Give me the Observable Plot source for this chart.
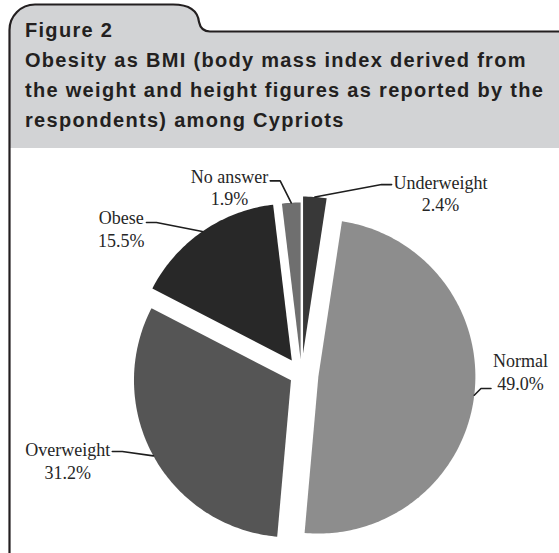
<!DOCTYPE html>
<html><head><meta charset="utf-8">
<script src="https://cdn.jsdelivr.net/npm/d3@7"></script>
<script src="https://cdn.jsdelivr.net/npm/@observablehq/plot@0.6"></script>
<style>
html,body{margin:0;padding:0;background:#fff;}
#fig{position:relative;width:559px;height:553px;overflow:hidden;background:#fff;}
#bg,#outline{position:absolute;left:0;top:0;}
#chart{position:absolute;left:10px;top:148px;}
.ttl{font-family:"Liberation Sans",Arial,sans-serif;font-weight:bold;font-size:20px;letter-spacing:1.3px;fill:#231f20;}
</style></head>
<body><div id="fig">
<svg id="bg" width="559" height="553">
  <path d="M9.5,148 V30 A25.5,25.5 0 0 1 35,4.5 H173 Q197,4.5 199,22 Q201,31.5 210,31.5 H559 V148 Z" fill="#d2d3d5"/>
</svg>
<div id="chart"></div>
<svg id="outline" width="559" height="553">
  <path d="M9.5,553 V30 A25.5,25.5 0 0 1 35,4.5 H173 Q197,4.5 199,22 Q201,31.5 210,31.5 H559" fill="none" stroke="#231f20" stroke-width="2.2"/>
  <text class="ttl" x="25" y="37">Figure 2</text>
  <text class="ttl" x="25" y="67">Obesity as BMI (body mass index derived from</text>
  <text class="ttl" x="25" y="97">the weight and height figures as reported by the</text>
  <text class="ttl" x="25" y="127">respondents) among Cypriots</text>
</svg>
</div>
<script>
// ---- data ----
const categories = ["Underweight", "Normal", "Overweight", "Obese", "No answer"];
const percentages = [2.4, 49.0, 31.2, 15.5, 1.9];

// ---- styles / layout ----
const sliceColors = ["#383838", "#8d8d8d", "#555555", "#282828", "#6f6f6f"];
const explodeBy = [21, 17, 12, 17, 15];
// label block placement relative to pie centre: [angle deg clockwise from 12 o'clock, distance, leader attach dy]
const labelPlacement = [[37.4, 229, -8], [89.2, 219, 17], [249.8, 249, -9], [309, 232, -6], [339, 201, -6]];

const W = 549, H = 405;
const CX = 291, CY = 226, R = 157;
const FONT_SIZE = 18, FONT = '"Liberation Serif","Times New Roman",serif';

const pie = d3.pie().sort(null).value(d => d).startAngle(0).endAngle(2 * Math.PI)(percentages);

const slicePts = [];
const labels = [];
const leaders = [];
const ctx = document.createElement("canvas").getContext("2d");
ctx.font = `${FONT_SIZE}px ${FONT}`;

pie.forEach((a, i) => {
  const mid = (a.startAngle + a.endAngle) / 2;
  const ax = CX + explodeBy[i] * Math.sin(mid), ay = CY - explodeBy[i] * Math.cos(mid);
  const cat = categories[i];
  slicePts.push({cat, x: ax, y: ay});
  const n = Math.max(2, Math.ceil((a.endAngle - a.startAngle) / (Math.PI / 180)));
  for (let k = 0; k <= n; k++) {
    const t = a.startAngle + (a.endAngle - a.startAngle) * k / n;
    slicePts.push({cat, x: ax + R * Math.sin(t), y: ay - R * Math.cos(t)});
  }
  slicePts.push({cat, x: ax, y: ay});

  const [ang, dist, dy] = labelPlacement[i];
  const r = ang * Math.PI / 180;
  const lx = CX + dist * Math.sin(r), ly = CY - dist * Math.cos(r);
  const text = `${cat}\n${percentages[i].toFixed(1)}%`;
  labels.push({x: lx, y: ly, text});

  const px = ax + R * Math.sin(mid), py = ay - R * Math.cos(mid);
  const side = lx > px ? 1 : -1;
  const halfW = Math.max(...text.split("\n").map(s => ctx.measureText(s).width)) / 2;
  const tx = lx - side * (halfW + 2), ty = ly + dy;
  leaders.push({cat, x: px, y: py}, {cat, x: tx - side * 10, y: ty}, {cat, x: tx, y: ty});
});

const chart = Plot.plot({
  width: W,
  height: H,
  margin: 0,
  style: {background: "white"},
  x: {domain: [0, W], range: [0, W], axis: null},
  y: {domain: [0, H], range: [0, H], axis: null},
  color: {domain: categories, range: sliceColors},
  marks: [
    Plot.line(slicePts, {x: "x", y: "y", z: "cat", fill: "cat", stroke: "none"}),
    Plot.line(leaders, {x: "x", y: "y", z: "cat", stroke: "#1e1e1e", strokeWidth: 1.6}),
    Plot.text(labels, {x: "x", y: "y", text: "text", fontFamily: FONT, fontSize: FONT_SIZE, lineHeight: 1.25, fill: "#262626", textAnchor: "middle"})
  ]
});
document.getElementById("chart").appendChild(chart);
</script>
</body></html>
